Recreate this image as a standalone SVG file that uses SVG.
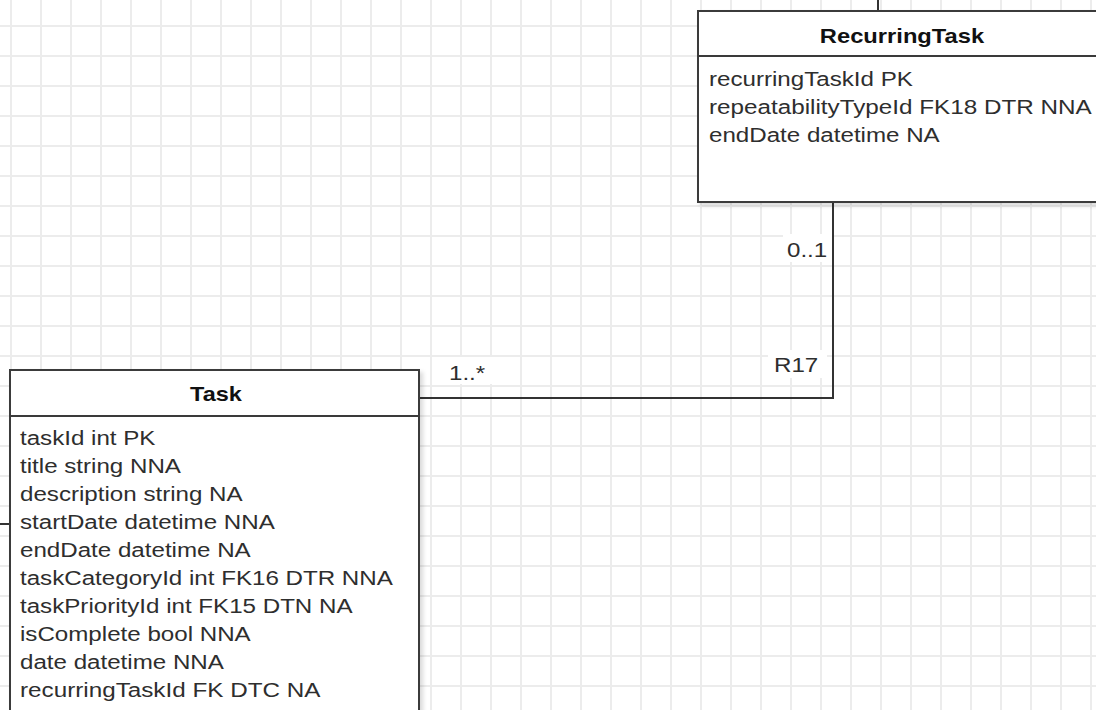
<svg xmlns="http://www.w3.org/2000/svg" width="1096" height="710" viewBox="0 0 1096 710">
  <style>
    .box { fill: #ffffff; stroke: #3a3a3a; stroke-width: 2; }
    .div { stroke: #3a3a3a; stroke-width: 2; fill: none; }
    .hdr { font-family: "Liberation Sans", Arial, sans-serif; font-size: 21px; font-weight: bold; fill: #111111; text-anchor: middle; }
    .row { font-family: "Liberation Sans", Arial, sans-serif; font-size: 21px; fill: #2e2e2e; }
    .lbl { font-family: "Liberation Sans", Arial, sans-serif; font-size: 21px; fill: #2e2e2e; }
    .conn { stroke: #333333; stroke-width: 2; fill: none; }
    .lblbg { fill: #ffffff; }
  </style>
  <defs>
    <pattern id="grid" patternUnits="userSpaceOnUse" x="-4" y="11" width="30" height="30">
      <path d="M15 0V30M0 15H30" stroke="#ececec" stroke-width="2" fill="none"/>
    </pattern>
    <filter id="shadow" x="-5%" y="-5%" width="115%" height="115%">
      <feDropShadow dx="3" dy="3" stdDeviation="2" flood-color="#000000" flood-opacity="0.15"/>
    </filter>
  </defs>

  <rect x="0" y="0" width="1096" height="710" fill="#ffffff"/>
  <rect x="0" y="0" width="1096" height="710" fill="url(#grid)"/>

  <g id="connectors">
    <path class="conn" d="M878 0V11"/>
    <path class="conn" d="M0 524H10"/>
    <path class="conn" d="M833 202V398H419"/>
    <g id="label-0-1">
      <rect class="lblbg" x="783" y="234" width="49" height="28"/>
      <text class="lbl" transform="translate(787,257) scale(1.15,1)">0..1</text>
    </g>
    <g id="label-R17">
      <rect class="lblbg" x="768" y="350" width="59" height="28"/>
      <text class="lbl" transform="translate(774,372) scale(1.15,1)">R17</text>
    </g>
    <g id="label-1-many">
      <rect class="lblbg" x="441" y="357" width="52" height="27"/>
      <text class="lbl" transform="translate(449,380) scale(1.15,1)">1..*</text>
    </g>
  </g>

  <g id="RecurringTask">
    <rect class="box" x="698" y="11" width="412" height="191" filter="url(#shadow)"/>
    <path class="div" d="M698 56H1110"/>
    <text class="hdr" transform="translate(902,43) scale(1.13,1)">RecurringTask</text>
    <g class="row">
      <text transform="translate(709,86) scale(1.15,1)">recurringTaskId PK</text>
      <text transform="translate(709,114) scale(1.155,1)">repeatabilityTypeId FK18 DTR NNA</text>
      <text transform="translate(709,142) scale(1.15,1)">endDate datetime NA</text>
    </g>
  </g>

  <g id="Task">
    <rect class="box" x="10" y="370" width="409" height="360" filter="url(#shadow)"/>
    <path class="div" d="M10 416H419"/>
    <text class="hdr" transform="translate(216,401) scale(1.12,1)">Task</text>
    <g class="row">
      <text transform="translate(20,445) scale(1.15,1)">taskId int PK</text>
      <text transform="translate(20,473) scale(1.15,1)">title string NNA</text>
      <text transform="translate(20,501) scale(1.15,1)">description string NA</text>
      <text transform="translate(20,529) scale(1.15,1)">startDate datetime NNA</text>
      <text transform="translate(20,557) scale(1.15,1)">endDate datetime NA</text>
      <text transform="translate(20,585) scale(1.15,1)">taskCategoryId int FK16 DTR NNA</text>
      <text transform="translate(20,613) scale(1.15,1)">taskPriorityId int FK15 DTN NA</text>
      <text transform="translate(20,641) scale(1.15,1)">isComplete bool NNA</text>
      <text transform="translate(20,669) scale(1.15,1)">date datetime NNA</text>
      <text transform="translate(20,697) scale(1.155,1)">recurringTaskId FK DTC NA</text>
    </g>
  </g>
</svg>
